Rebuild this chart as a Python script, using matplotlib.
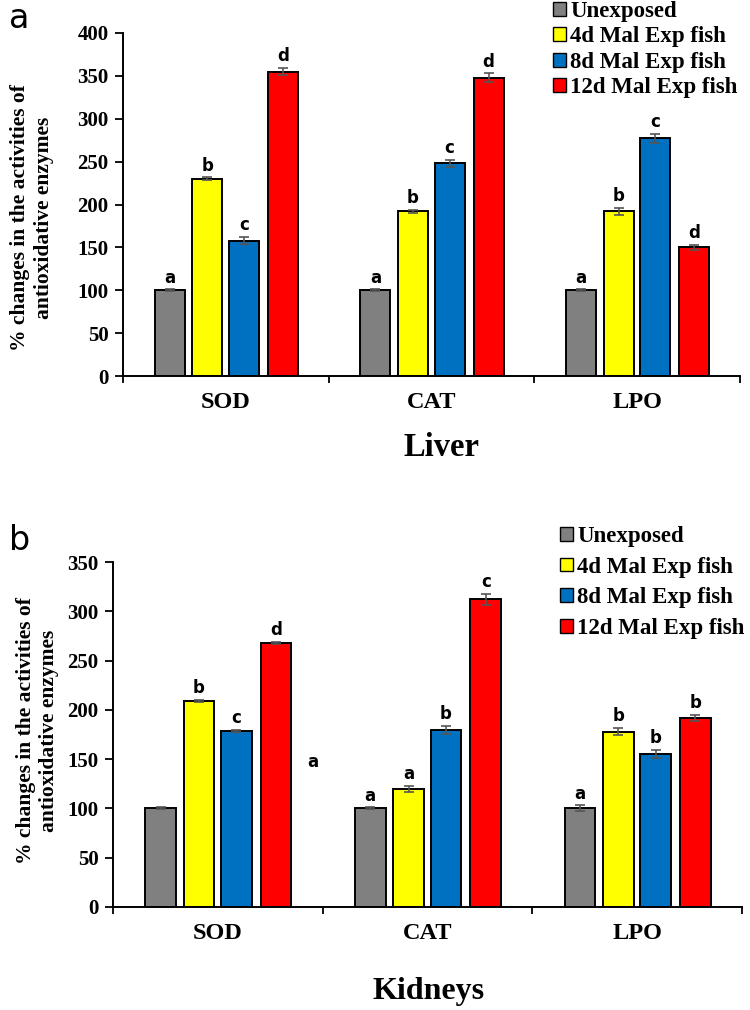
import matplotlib
matplotlib.use("Agg")
import matplotlib.pyplot as plt
import numpy as np
from matplotlib.patches import Patch

categories = ["SOD", "CAT", "LPO"]
series = ["Unexposed", "4d Mal Exp fish", "8d Mal Exp fish", "12d Mal Exp fish"]
colors = ["#808080", "#FFFF00", "#0070C0", "#FF0000"]

liver_vals = [[100, 100, 100], [230, 192, 192], [158, 248, 277], [355, 348, 150]]
liver_err = [[1, 1, 1], [1.5, 2, 4], [4, 4, 5], [4, 5, 3]]
liver_letters = [["a", "a", "a"], ["b", "b", "b"], ["c", "c", "c"], ["d", "d", "d"]]

kid_vals = [[100, 100, 100], [209, 120, 178], [179, 180, 155], [268, 312, 192]]
kid_err = [[1, 1, 3], [1, 3, 4], [1, 4, 4], [1, 6, 3]]
kid_letters = [["", "a", "a"], ["b", "a", "b"], ["c", "b", "b"], ["d", "c", "b"]]

serif = "Liberation Serif"
sans = "DejaVu Sans"

W, H = 750, 1010
fig = plt.figure(figsize=(7.5, 10.1), dpi=100)

def panel(rect, vals, errs, letters, ymax, ystep, xlabel, xlabel_xy, xlsize, leg_anchor,
          leg_spacing, tag, tag_y, ylab_xy, stray=None):
    ax = fig.add_axes(rect)
    n = len(series)
    offsets = [-0.273, -0.09, 0.088, 0.278]
    width = 0.146
    x = np.arange(len(categories)) + 0.5
    for i in range(n):
        xs = x + offsets[i]
        ax.bar(xs, vals[i], width, color=colors[i], edgecolor="black", linewidth=1.4, zorder=2)
        ax.errorbar(xs, vals[i], yerr=errs[i], fmt="none", ecolor="#555555", elinewidth=1.2,
                    capsize=3.5, capthick=1.2, zorder=3)
        for j in range(len(categories)):
            if letters[i][j]:
                ax.annotate(letters[i][j], (xs[j], vals[i][j] + errs[i][j]), xytext=(0, 2),
                            textcoords="offset points", ha="center", va="bottom",
                            fontsize=12, fontweight="bold", family=sans)
    if stray:
        ax.text(stray[0], stray[1], stray[2], ha="center", va="center", fontsize=12,
                fontweight="bold", family=sans)
    ax.set_xlim(0, 3)
    ax.set_ylim(0, ymax)
    ax.set_yticks(np.arange(0, ymax + 1, ystep))
    ax.set_xticks([0, 1, 2, 3])
    ax.set_xticklabels([])
    ax.tick_params(axis="x", direction="out", length=5, width=1.3)
    ax.tick_params(axis="y", direction="out", length=5.5, width=1.3, pad=5)
    for lab in ax.get_yticklabels():
        lab.set_family(serif)
        lab.set_fontweight("bold")
        lab.set_fontsize(15)
    for s in ["top", "right"]:
        ax.spines[s].set_visible(False)
    for s in ["left", "bottom"]:
        ax.spines[s].set_linewidth(1.4)
    for j, c in enumerate(categories):
        ax.text(j + 0.5, -0.078 * ymax, c, ha="center", va="center", family=serif,
                fontweight="bold", fontsize=17.5, clip_on=False)
    ax.set_ylabel("% changes in the activities of\nantioxidative enzymes", family=serif,
                  fontweight="bold", fontsize=15.5, linespacing=1.25, va="center")
    ax.yaxis.set_label_coords(*ylab_xy)
    fig.text(xlabel_xy[0], xlabel_xy[1], xlabel, ha="center", va="center", family=serif,
             fontweight="bold", fontsize=xlsize)
    handles = [Patch(facecolor=colors[i], edgecolor="black", linewidth=1.0) for i in range(n)]
    fig.legend(handles, series, loc="upper left", bbox_to_anchor=leg_anchor,
               frameon=False, handlelength=0.55, handleheight=0.55, handletextpad=0.2,
               labelspacing=leg_spacing, borderaxespad=0, borderpad=0,
               prop={"family": serif, "weight": "bold", "size": 16.5})
    fig.text(0.012, tag_y, tag, ha="left", va="center", family=sans, fontsize=24)
    return ax

panel([123 / W, 1 - 376 / H, 617 / W, 343 / H], liver_vals, liver_err, liver_letters, 400, 50,
      "Liver", (441 / W, 1 - 448 / H), 23.5, (553 / W, 1 - 1 / H), 0.19, "a", 1 - 19 / H,
      (-0.148, 0.461))
panel([113 / W, 1 - 907 / H, 629 / W, 345 / H], kid_vals, kid_err, kid_letters, 350, 50,
      "Kidneys", (429 / W, 1 - 992 / H), 23, (560 / W, 1 - 526 / H), 0.42, "b", 1 - 540 / H,
      (-0.12, 0.51), stray=(0.954, 147, "a"))

fig.savefig("out.png", dpi=100)
